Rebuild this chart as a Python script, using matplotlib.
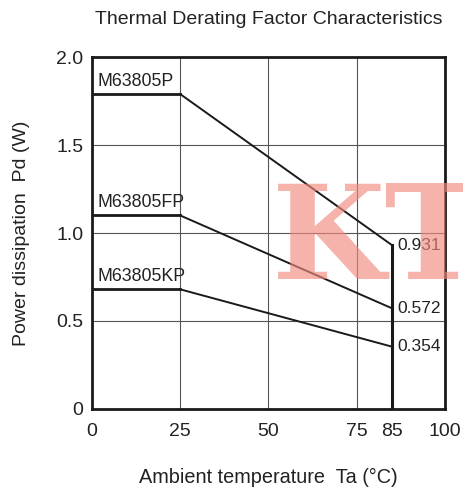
import matplotlib.pyplot as plt

plt.rcParams['font.family'] = ['Liberation Sans', 'DejaVu Sans']

# derating curves: temperature breakpoints and power values
temps = [0, 25, 85]
pd_p = [1.79, 1.79, 0.931]
pd_fp = [1.10, 1.10, 0.572]
pd_kp = [0.68, 0.68, 0.354]
names = ['M63805P', 'M63805FP', 'M63805KP']
end_labels = ['0.931', '0.572', '0.354']

x_ticks = [0, 25, 50, 75, 85, 100]
y_ticks = [0, 0.5, 1.0, 1.5, 2.0]
y_ticklabels = ['0', '0.5', '1.0', '1.5', '2.0']

fig = plt.figure(figsize=(4.64, 4.88), dpi=100)
ax = fig.add_axes([0.198, 0.162, 0.761, 0.721])

# watermark
fig.text(0.585, 0.428, 'KT', fontsize=94, family='DejaVu Serif', weight='bold',
         color='#f08a7e', alpha=0.65, ha='left', va='baseline', zorder=0)
ax.set_facecolor('none')

for x in [25, 50, 75]:
    ax.axvline(x, color='#555555', lw=0.8, zorder=1)
for y in [0.5, 1.0, 1.5]:
    ax.axhline(y, color='#555555', lw=0.8, zorder=1)

for vals, name, lab in zip([pd_p, pd_fp, pd_kp], names, end_labels):
    ax.plot(temps[:2], vals[:2], color='#1a1a1a', lw=2.0, zorder=3)
    ax.plot(temps[1:], vals[1:], color='#1a1a1a', lw=1.4, zorder=3)
    ax.text(1.5, vals[0] + 0.025, name, fontsize=12.8, va='bottom', ha='left', color='#222222')
    ax.text(86.5, vals[2], lab, fontsize=12.5, va='center', ha='left', color='#222222')

ax.plot([85, 85], [0, pd_p[2]], color='#1a1a1a', lw=2.2, zorder=3)

ax.set_xlim(0, 100)
ax.set_ylim(0, 2.0)
ax.set_xticks(x_ticks)
ax.set_yticks(y_ticks)
ax.set_yticklabels(y_ticklabels)
ax.tick_params(length=0, labelsize=14, colors='#222222')
ax.tick_params(axis='x', pad=10)
ax.tick_params(axis='y', pad=6)
for s in ax.spines.values():
    s.set_linewidth(2.0)
    s.set_color('#1a1a1a')

ax.set_title('Thermal Derating Factor Characteristics', fontsize=14, pad=24, color='#222222')
ax.set_xlabel('Ambient temperature  Ta (°C)', fontsize=14.3, labelpad=20, color='#222222')
ax.set_ylabel('Power dissipation  Pd (W)', fontsize=14, labelpad=19, color='#222222')

fig.savefig('out.png', dpi=100)
